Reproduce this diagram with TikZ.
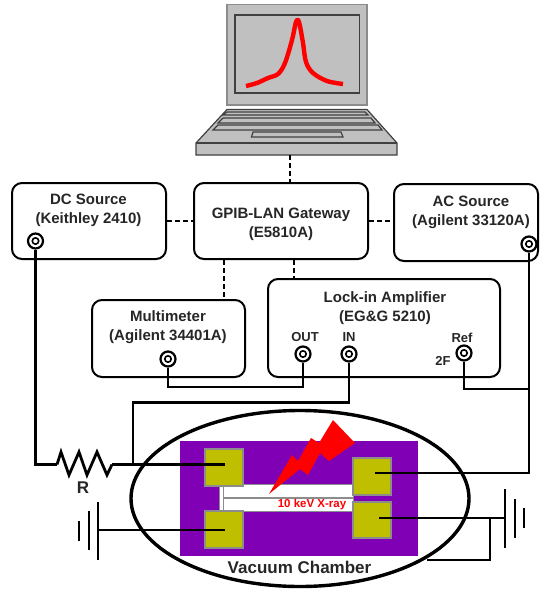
\documentclass[tikz,border=0pt]{standalone}
\usepackage{fontspec}
\setmainfont{Liberation Sans}
\usetikzlibrary{positioning,calc,shapes.geometric}
\definecolor{Pc}{HTML}{7F00B5}
\definecolor{Oc}{HTML}{BFBF00}
\definecolor{Gc}{HTML}{C0C0C0}
\definecolor{Ec}{HTML}{8C8C8C}
\tikzset{
  instr/.style={rectangle, draw=black, line width=2pt, rounded corners=10pt, fill=white, inner sep=0pt},
  lbl/.style={font=\fontsize{15}{19}\selectfont\bfseries, text=black!85, align=center, inner sep=0pt},
  port/.style={font=\fontsize{13}{14}\selectfont\bfseries, text=black!85, inner sep=0pt},
  big/.style={font=\fontsize{17}{20}\selectfont\bfseries, text=black!85, inner sep=0pt},
  jack/.style={circle, draw=black, line width=2.2pt, fill=white, inner sep=0pt, minimum size=15pt, path picture={\draw[line width=1.6pt] (path picture bounding box.center) circle (3.2pt);}},
  pad/.style={rectangle, draw=Ec, line width=1.2pt, fill=Oc, inner sep=0pt},
  gpib/.style={black, line width=2.5pt, dash pattern=on 4.5pt off 3.5pt},
  wire/.style={black, line width=2.2pt},
  gnd/.style={black, line width=2.2pt},
  body/.style={draw=black!75, line width=1.2pt, fill=Gc},
}
\begin{document}
\begin{tikzpicture}[x=1pt,y=-1pt]
  \useasboundingbox (0,0) rectangle (541,590);
  % laptop
  \draw[body] (196,143) -- (227,109.5) -- (367,109.5) -- (397,143) -- (397,155) -- (196,155) -- cycle;
  \draw[body] (196,143) -- (397,143);
  \draw[body] (227,112) -- (223,115) -- (368,115) -- (365,112) -- cycle;
  \draw[body] (223,118) -- (218,123) -- (375,123) -- (371,118) -- cycle;
  \draw[body] (218,125) -- (213,130) -- (382,130) -- (378,125) -- cycle;
  \draw[body] (253,132) -- (251.5,137) -- (343,137) -- (341,132) -- cycle;
  \draw[draw=black!45, line width=1.2pt, fill=Gc] (227,4.5) rectangle (367,105);
  \draw[body] (235,15) rectangle (359.5,93);
  \draw[red, line width=4.4pt, line join=round] plot[smooth, tension=0.55] coordinates {(246,86) (257,83) (268,78) (278,74) (285,63) (292,40) (296,22) (299,22) (303,43) (306,62) (313,73) (327,81) (343,84)};
  \coordinate (pc) at (290,155);
  % instruments
  \node[instr, minimum width=154pt, minimum height=76pt] (dc) at (89,221) {};
  \node[instr, minimum width=174pt, minimum height=76pt] (gw) at (281,221) {};
  \node[instr, minimum width=144pt, minimum height=77pt] (ac) at (466,222.5) {};
  \node[instr, minimum width=153pt, minimum height=77pt] (mm) at (168.5,338.5) {};
  \node[instr, minimum width=232pt, minimum height=98pt] (li) at (384,328) {};
  \node[lbl] (dclbl) at (88.5,210.5) {DC Source\\(Keithley 2410)};
  \node[lbl] (gwlbl) at (281,224) {GPIB-LAN Gateway\\(E5810A)};
  \node[lbl] (aclbl) at (471,212) {AC Source\\(Agilent 33120A)};
  \node[lbl] (mmlbl) at (168,327.5) {Multimeter\\(Agilent 34401A)};
  \node[lbl] (lilbl) at (385,308) {Lock-in Amplifier\\(EG\&G 5210)};
  \node[port] (outlbl) at (305,337) {OUT};
  \node[port] (inlbl) at (349,337) {IN};
  \node[port] (reflbl) at (462,338) {Ref};
  \node[port] (twof) at (443,361) {2F};
  \node[jack] (jdc) at (35.5,241) {};
  \node[jack] (jac) at (529,244) {};
  \node[jack] (jmm) at (168,359) {};
  \node[jack] (jout) at (303,354) {};
  \node[jack] (jin) at (349,354) {};
  \node[jack] (jref) at (464,353) {};
  % bus
  \coordinate (mmbus) at (224,0);
  \coordinate (libus) at (294,0);
  \draw[gpib] (pc) -- (pc |- gw.north);
  \draw[gpib] (dc.east) -- (gw.west);
  \draw[gpib] (gw.east) -- (gw.east -| ac.west);
  \draw[gpib] (gw.south -| mmbus) -- (mm.north -| mmbus);
  \draw[gpib] (gw.south -| libus) -- (li.north -| libus);
  % chamber
  \node[draw=black, line width=3.4pt, ellipse, minimum width=338pt, minimum height=176pt, inner sep=0pt] (chamber) at (300,498.5) {};
  \fill[Pc] (180,441) rectangle (418,556);
  \draw[draw=Ec, line width=1pt, fill=white] (223,484) rectangle (353,511);
  \draw[draw=Ec, line width=1pt, fill=white] (219,486) rectangle (223,511);
  \draw[Ec, line width=1.4pt] (223,498) -- (353,498);
  \node[pad, minimum width=38pt, minimum height=37pt] (p1) at (224,467.5) {};
  \node[pad, minimum width=38pt, minimum height=37pt] (p2) at (224,529.5) {};
  \node[pad, minimum width=38pt, minimum height=37pt] (p3) at (372,476.5) {};
  \node[pad, minimum width=38pt, minimum height=36pt] (p4) at (372,520) {};
  \fill[red] (269,494) -- (292,455) -- (298,461) -- (311,438) -- (319,443) -- (333,420) -- (355,443) -- (329,461) -- (320,453) -- (308,475) -- (300,469) -- cycle;
  \node[font=\fontsize{11.5}{12}\selectfont\bfseries, text=red, inner sep=0pt] (xray) at (312,505) {10 keV X-ray};
  \node[big] (vac) at (299.5,567) {Vacuum Chamber};
  \node[big] (rlbl) at (83,488) {R};
  % wires
  \coordinate (rin) at (57,464.5);
  \coordinate (rout) at (112,464.5);
  \coordinate (tap) at (133,464.5);
  \coordinate (pin1) at (225,464.5);
  \coordinate (pin2) at (225,530);
  \coordinate (pin3) at (375,473);
  \coordinate (pin4) at (379,518);
  \coordinate (gl) at (98,530);
  \coordinate (gr) at (505,518);
  \coordinate (split) at (490,518);
  \coordinate (gndend) at (427,560);
  \coordinate (outbus) at (303,387);
  \coordinate (inbus) at (349,402.5);
  \coordinate (refbus) at (529.5,389);
  \draw[wire] (jdc) |- (rin);
  \draw[wire, line width=2.8pt] (rin) -- (61,452) -- (69,475) -- (79,452) -- (87,475) -- (97,452) -- (107,475) -- (rout);
  \draw[wire] (rout) -- (tap) -- (pin1);
  \draw[wire] (tap) |- (inbus) -- (jin);
  \draw[wire] (jmm) |- (outbus) -- (jout);
  \draw[wire] (jref) |- (refbus);
  \draw[wire] (jac) |- (pin3);
  \draw[wire] (pin2) -- (gl);
  \draw[wire] (pin4) -- (gr);
  \draw[wire] (split) |- (gndend);
  \draw[gnd] (98,502) -- (98,560);
  \draw[gnd] (89,511) -- (89,550);
  \draw[gnd] (79,521) -- (79,541);
  \draw[gnd] (505,489) -- (505,548);
  \draw[gnd] (515,499) -- (515,538);
  \draw[gnd] (524,508) -- (524,528);
\end{tikzpicture}
\end{document}
